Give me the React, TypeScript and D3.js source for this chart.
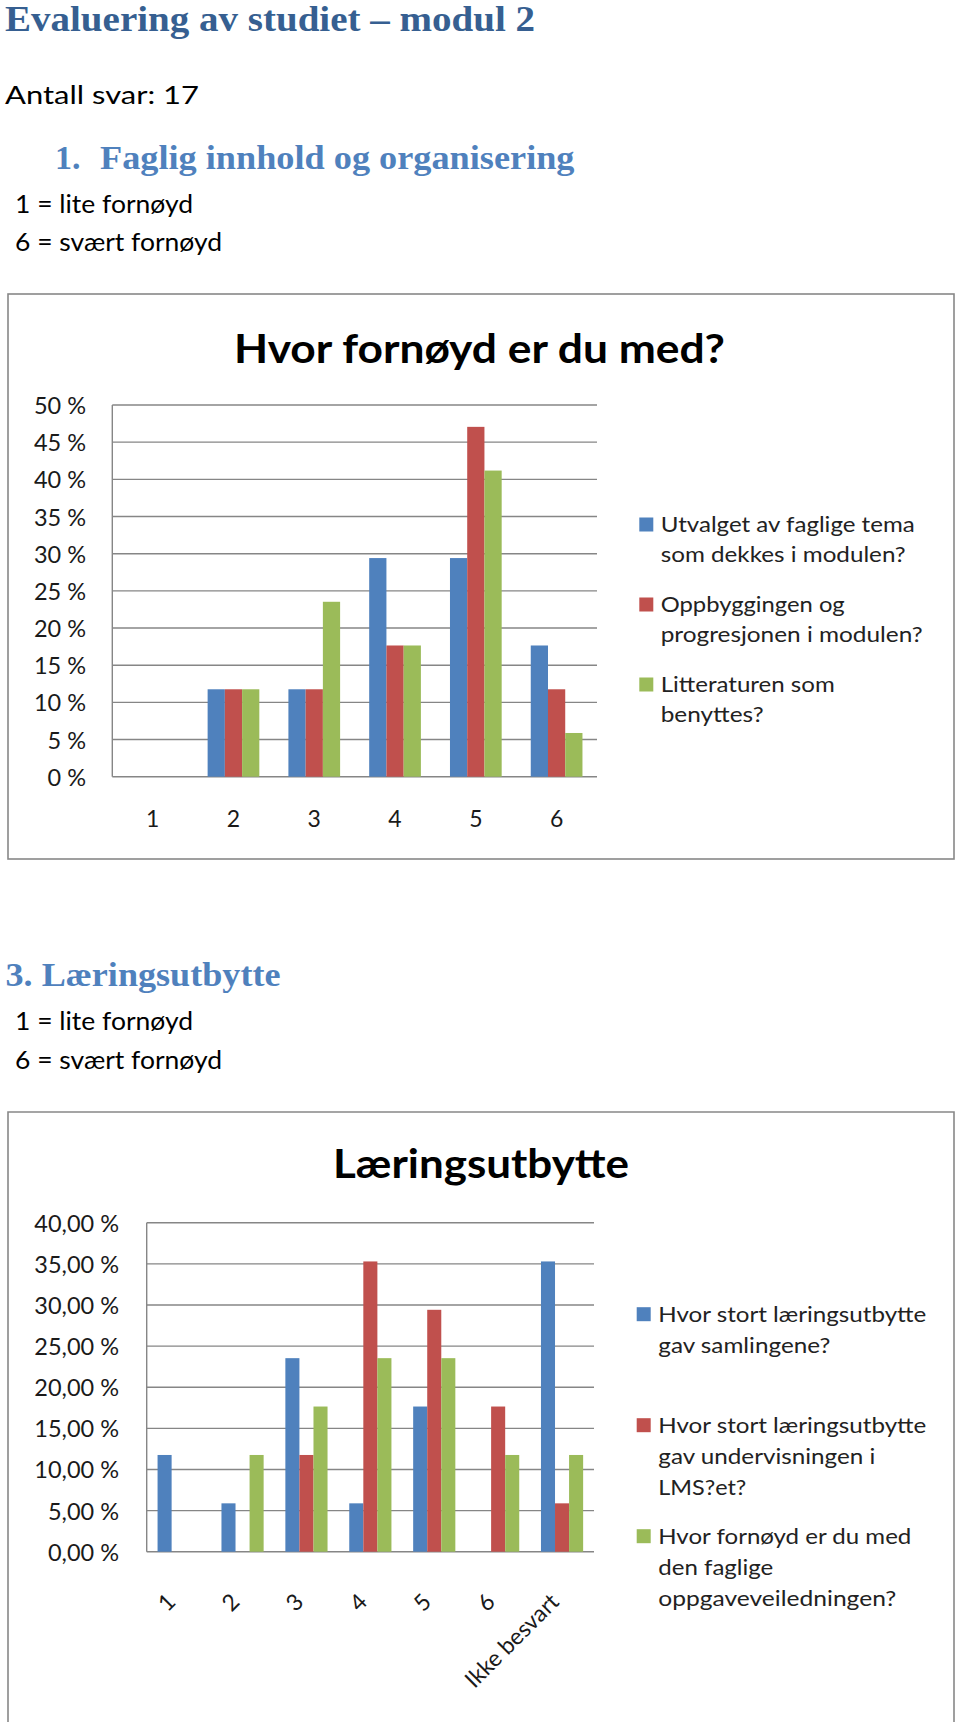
import React from 'react';
import * as d3 from 'd3';

// ---------- DATA ----------
const categories1 = ['1', '2', '3', '4', '5', '6'];
const utvalget = [0, 11.76, 11.76, 29.41, 29.41, 17.65];
const oppbyggingen = [0, 11.76, 11.76, 17.65, 47.06, 11.76];
const litteraturen = [0, 11.76, 23.53, 17.65, 41.18, 5.88];
const yTicks1 = [0, 5, 10, 15, 20, 25, 30, 35, 40, 45, 50];
const legend1 = [
  ['Utvalget av faglige tema', 'som dekkes i modulen?'],
  ['Oppbyggingen og', 'progresjonen i modulen?'],
  ['Litteraturen som', 'benyttes?'],
];

const categories2 = ['1', '2', '3', '4', '5', '6', 'Ikke besvart'];
const samlingene = [11.76, 5.88, 23.53, 5.88, 17.65, 0, 35.29];
const undervisningLMS = [0, 0, 11.76, 35.29, 29.41, 17.65, 5.88];
const oppgaveveiledning = [0, 11.76, 17.65, 23.53, 23.53, 11.76, 11.76];
const yTicks2 = [0, 5, 10, 15, 20, 25, 30, 35, 40];
const legend2 = [
  ['Hvor stort læringsutbytte', 'gav samlingene?'],
  ['Hvor stort læringsutbytte', 'gav undervisningen i', 'LMS?et?'],
  ['Hvor fornøyd er du med', 'den faglige', 'oppgaveveiledningen?'],
];

const seriesColors = ['#4F81BD', '#C0504D', '#9BBB59'];

// ---------- LAYOUT ----------
const SANS = 'Lato, "Open Sans", sans-serif';
const SERIF = '"Liberation Serif", "DejaVu Serif", serif';
const GRID = '#868686';
const TXT = '#1a1a1a';

type ChartCfg = {
  title: string;
  titleX: number;
  titleY: number;
  titleW: number;
  cats: string[];
  series: number[][];
  ticks: number[];
  yMax: number;
  x0: number;
  x1: number;
  yTop: number;
  yBot: number;
  pad: number;
  yLabelX: number;
  fmt: (v: number) => string;
  rotated: boolean;
  xLabelY: number;
  xLabelDx: number;
  legend: string[][];
  legendBaselines: number[][];
  legendWidths: number[][];
  sqX: number;
  textX: number;
};

function Chart({ c }: { c: ChartCfg }) {
  const y = d3.scaleLinear().domain([0, c.yMax]).range([c.yBot, c.yTop]);
  const x = d3
    .scaleBand<string>()
    .domain(c.cats)
    .range([c.x0, c.x1])
    .paddingInner(c.pad)
    .paddingOuter(c.pad / 2);
  const sub = d3
    .scaleBand<number>()
    .domain(c.series.map((_, i) => i))
    .range([0, x.bandwidth()]);
  return (
    <g>
      <text
        x={c.titleX}
        y={c.titleY}
        textAnchor="middle"
        fontFamily={SANS}
        fontWeight={700}
        fontSize={41}
        fill="#000"
        textLength={c.titleW}
        lengthAdjust="spacingAndGlyphs"
      >
        {c.title}
      </text>
      {c.ticks.map((t) => (
        <g key={t}>
          <line x1={c.x0} x2={c.x1} y1={y(t)} y2={y(t)} stroke={GRID} strokeWidth={1.4} />
          <text
            x={c.yLabelX}
            y={y(t)}
            textAnchor="end"
            dominantBaseline="central"
            fontFamily={SANS}
            fontSize={23.5}
            fill={TXT}
          >
            {c.fmt(t)}
          </text>
        </g>
      ))}
      <line x1={c.x0} x2={c.x0} y1={c.yTop} y2={c.yBot} stroke={GRID} strokeWidth={1.4} />
      {c.series.map((s, si) =>
        s.map((v, ci) =>
          v > 0 ? (
            <rect
              key={`${si}-${ci}`}
              x={(x(c.cats[ci]) as number) + (sub(si) as number)}
              y={y(v)}
              width={sub.bandwidth()}
              height={y(0) - y(v)}
              fill={seriesColors[si]}
            />
          ) : null
        )
      )}
      {c.cats.map((cat) => {
        const cx = (x(cat) as number) + x.bandwidth() / 2;
        return c.rotated ? (
          <text
            key={cat}
            transform={`translate(${cx + c.xLabelDx},${c.xLabelY}) rotate(-45)`}
            textAnchor="end"
            dominantBaseline="central"
            fontFamily={SANS}
            fontSize={23}
            fill={TXT}
          >
            {cat}
          </text>
        ) : (
          <text key={cat} x={cx} y={c.xLabelY} textAnchor="middle" fontFamily={SANS} fontSize={23} fill={TXT}>
            {cat}
          </text>
        );
      })}
      {c.legend.map((lines, li) => (
        <g key={li}>
          <rect x={c.sqX} y={c.legendBaselines[li][0] - 14.5} width={14} height={14} fill={seriesColors[li]} />
          {lines.map((ln, k) => (
            <text
              key={k}
              x={c.textX}
              y={c.legendBaselines[li][k]}
              fontFamily={SANS}
              fontSize={21.5}
              fill="#222"
              textLength={c.legendWidths[li][k]}
              lengthAdjust="spacingAndGlyphs"
            >
              {ln}
            </text>
          ))}
        </g>
      ))}
    </g>
  );
}

const fmt1 = (v: number) => `${v} %`;
const fmt2 = (v: number) => `${v.toFixed(2).replace('.', ',')} %`;

const chart1: ChartCfg = {
  title: 'Hvor fornøyd er du med?',
  titleX: 479.5,
  titleY: 362.5,
  titleW: 491,
  cats: categories1,
  series: [utvalget, oppbyggingen, litteraturen],
  ticks: yTicks1,
  yMax: 50,
  x0: 112.3,
  x1: 597,
  yTop: 405,
  yBot: 776.7,
  pad: 0.36,
  yLabelX: 86,
  fmt: fmt1,
  rotated: false,
  xLabelY: 827,
  xLabelDx: 0,
  legend: legend1,
  legendBaselines: [
    [532, 562],
    [612, 642],
    [692, 722],
  ],
  legendWidths: [
    [254, 245],
    [184, 262],
    [174, 103],
  ],
  sqX: 639.3,
  textX: 660.7,
};

const chart2: ChartCfg = {
  title: 'Læringsutbytte',
  titleX: 481,
  titleY: 1177.5,
  titleW: 296,
  cats: categories2,
  series: [samlingene, undervisningLMS, oppgaveveiledning],
  ticks: yTicks2,
  yMax: 40,
  x0: 146.7,
  x1: 594,
  yTop: 1222.7,
  yBot: 1551.7,
  pad: 0.34,
  yLabelX: 119,
  fmt: fmt2,
  rotated: true,
  xLabelY: 1597,
  xLabelDx: -8,
  legend: legend2,
  legendBaselines: [
    [1321.7, 1352.7],
    [1432.7, 1463.7, 1494.7],
    [1543.7, 1574.7, 1605.7],
  ],
  legendWidths: [
    [268, 172],
    [268, 217, 88],
    [253, 115, 238],
  ],
  sqX: 636.7,
  textX: 658.3,
};

export default function App() {
  return (
    <svg
      width={960}
      height={1722}
      viewBox="0 0 960 1722"
      style={{ position: 'absolute', left: 0, top: 0, display: 'block', background: '#fff' }}
    >
      <rect x={0} y={0} width={960} height={1722} fill="#fff" />
      <text x={5} y={30.5} fontFamily={SERIF} fontWeight={700} fontSize={36} fill="#365F91" textLength={530} lengthAdjust="spacingAndGlyphs">
        Evaluering av studiet – modul 2
      </text>
      <text x={5} y={104} fontFamily={SANS} fontSize={25} fill="#000" textLength={194} lengthAdjust="spacingAndGlyphs">
        Antall svar: 17
      </text>
      <text x={55} y={169.3} fontFamily={SERIF} fontWeight={700} fontSize={34} fill="#4F81BD">
        1.
      </text>
      <text x={100} y={169.3} fontFamily={SERIF} fontWeight={700} fontSize={34} fill="#4F81BD" textLength={474.5} lengthAdjust="spacingAndGlyphs">
        Faglig innhold og organisering
      </text>
      <text x={15} y={213.3} fontFamily={SANS} fontSize={25} fill="#000" textLength={178} lengthAdjust="spacingAndGlyphs">
        1 = lite fornøyd
      </text>
      <text x={15} y={250.7} fontFamily={SANS} fontSize={25} fill="#000" textLength={207} lengthAdjust="spacingAndGlyphs">
        6 = svært fornøyd
      </text>

      <rect x={8} y={294} width={946} height={565} fill="none" stroke="#888" strokeWidth={1.6} />
      <Chart c={chart1} />

      <text x={5.5} y={986} fontFamily={SERIF} fontWeight={700} fontSize={34} fill="#4F81BD" textLength={275} lengthAdjust="spacingAndGlyphs">
        3. Læringsutbytte
      </text>
      <text x={15} y={1029.5} fontFamily={SANS} fontSize={25} fill="#000" textLength={178} lengthAdjust="spacingAndGlyphs">
        1 = lite fornøyd
      </text>
      <text x={15} y={1069} fontFamily={SANS} fontSize={25} fill="#000" textLength={207} lengthAdjust="spacingAndGlyphs">
        6 = svært fornøyd
      </text>

      <path d="M8,1722 L8,1112 L954,1112 L954,1722" fill="none" stroke="#888" strokeWidth={1.6} />
      <Chart c={chart2} />
    </svg>
  );
}
